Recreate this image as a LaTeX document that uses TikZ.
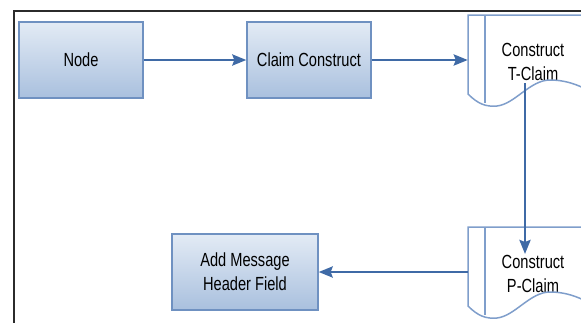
\documentclass[tikz,border=0pt]{standalone}
\usepackage{fontspec}
\setmainfont{Liberation Sans}[FakeStretch=0.77]
\usetikzlibrary{arrows.meta}
\usetikzlibrary{calc}

\definecolor{boxtop}{HTML}{E3EBF5}
\definecolor{boxbottom}{HTML}{A9C0DE}
\definecolor{boxedge}{HTML}{6F91C1}
\definecolor{flowblue}{HTML}{3F6AA6}
\definecolor{docedge}{HTML}{7F9ECB}
\definecolor{framegray}{HTML}{2B2B2B}

% page-with-wavy-bottom outline around a named node
\newcommand{\docoutline}[1]{%
  \begin{scope}[shift={(#1.center)}]
    \draw[docline] (-65,-47) -- (-65,32)
      .. controls (-55,42) and (-47,45) .. (-36,44)
      .. controls (-18,42) and (-3,18) .. (17,18)
      .. controls (37,18) and (52,26) .. (65,34) -- (65,-47) -- cycle;
    \draw[docline] (-48,-47) -- (-48,41);
  \end{scope}}

\begin{document}
\begin{tikzpicture}[x=1pt,y=-1pt]
    \tikzstyle{arrow} = [line width=2.8pt,draw=flowblue,-{Stealth[length=14pt,width=11pt,inset=2pt]}]
    \tikzstyle{stepbox} = [draw=boxedge,line width=1.3pt,top color=boxtop,bottom color=boxbottom,
        minimum width=124pt,minimum height=76pt,align=center,font=\fontsize{19}{24}\selectfont]
    \tikzstyle{docbox} = [minimum width=130pt,align=center,font=\fontsize{19}{24}\selectfont]
    \tikzstyle{docline} = [draw=docedge,line width=1.5pt]

    \useasboundingbox (0,0) rectangle (581,322);
    \clip (0,0) rectangle (581,322);
    \draw[line width=2pt,draw=framegray] (14,330) -- (14,11) -- (590,11);

    \node[stepbox] (node) at (81,60) {Node};
    \node[stepbox] (claim) at (309,60) {Claim Construct};
    \node[docbox] (tclaim) at (533,62) {Construct\\T-Claim};
    \node[docbox] (pclaim) at (533,274) {Construct\\P-Claim};
    \node[stepbox,minimum width=146pt] (header) at (245,272) {Add Message\\Header Field};

    \docoutline{tclaim}
    \docoutline{pclaim}

    \coordinate (tout) at ($(tclaim.center)+(-8,21)$);
    \coordinate (pin) at ($(pclaim.center)+(-8,-20)$);

    \draw[arrow] (node) -- (claim);
    \draw[arrow] (claim.east) -- (claim.east -| tclaim.west);
    \draw[arrow] (tout) -- (pin);
    \draw[arrow] (pclaim.west |- header.east) -- (header.east);
\end{tikzpicture}
\end{document}
